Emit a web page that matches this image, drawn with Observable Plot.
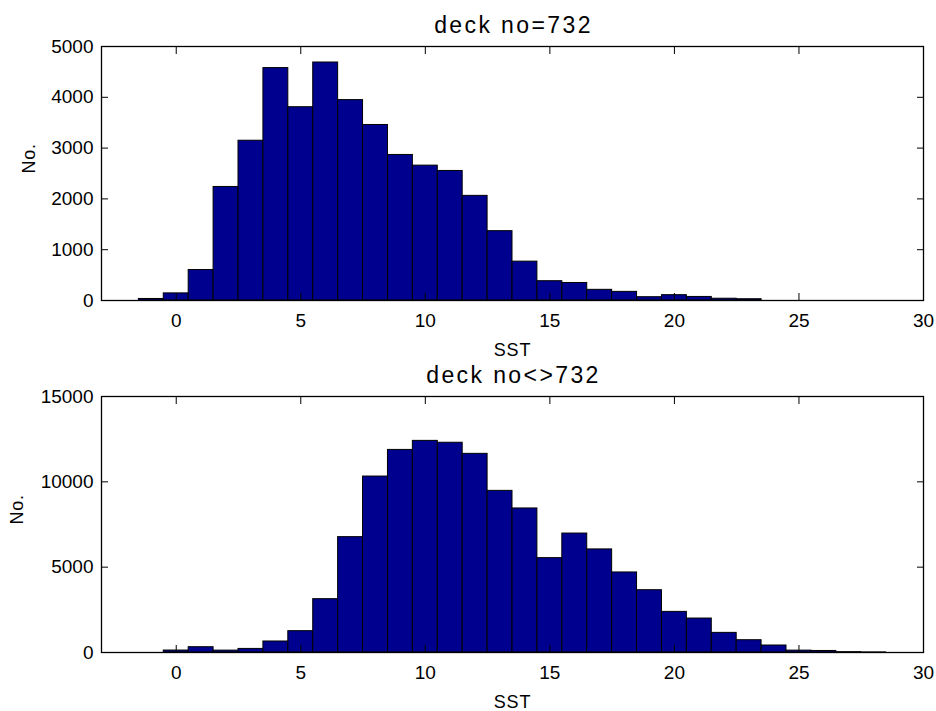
<!DOCTYPE html>
<html>
<head>
<meta charset="utf-8">
<script src="https://cdn.jsdelivr.net/npm/d3@7"></script>
<script src="https://cdn.jsdelivr.net/npm/@observablehq/plot@0.6"></script>
<style>
  html, body { margin: 0; padding: 0; background: #fff; }
  #chart { width: 936px; }
  #chart svg { display: block; overflow: visible; }
</style>
</head>
<body>
<div id="chart"></div>
<script>
// ---- data ----
const sstBins = [-2, -1, 0, 1, 2, 3, 4, 5, 6, 7, 8, 9, 10, 11, 12, 13, 14, 15, 16, 17, 18, 19, 20, 21, 22, 23, 24, 25, 26, 27, 28, 29];
const counts732 = [0, 30, 140, 600, 2235, 3145, 4575, 3805, 4685, 3945, 3455, 2865, 2655, 2550, 2060, 1365, 765, 380, 345, 210, 170, 65, 105, 70, 35, 25, 0, 0, 0, 0, 0, 0];
const countsOther = [0, 0, 115, 310, 110, 210, 645, 1250, 3125, 6760, 10310, 11870, 12400, 12290, 11640, 9470, 8440, 5530, 6970, 6040, 4690, 3650, 2380, 1990, 1150, 720, 410, 110, 90, 20, 5, 0];
const xTicks = [0, 5, 10, 15, 20, 25, 30];
const yTicksTop = [0, 1000, 2000, 3000, 4000, 5000];
const yTicksBottom = [0, 5000, 10000, 15000];
const titles = ["deck no=732", "deck no\u003C\u003E732"];
const xLabel = "SST";
const yLabel = "No.";
const binWidth = 1;

const FONT = "'Liberation Sans', Arial, sans-serif";
const BAR = "#00008F";

function panel({counts, yTicks, yMax, title, height, marginTop, marginBottom, yLabelDx}) {
  const rows = sstBins.map((c, i) => ({c, n: counts[i]}));
  const tick = 7;
  const svg = Plot.plot({
    width: 936,
    height,
    marginTop,
    marginBottom,
    marginLeft: 101,
    marginRight: 13,
    style: {fontFamily: FONT, fontSize: "19px", color: "#000", background: "#fff", overflow: "visible"},
    x: {domain: [-3, 30]},
    y: {domain: [0, yMax]},
    marks: [
      Plot.rectY(rows, {
        x1: d => d.c - binWidth / 2,
        x2: d => d.c + binWidth / 2,
        y: "n",
        fill: BAR,
        stroke: "#000",
        strokeWidth: 1
      }),
      Plot.frame({stroke: "#000", strokeWidth: 1.3}),
      // tick labels
      Plot.axisX({anchor: "bottom", ticks: xTicks, tickSize: 0, tickPadding: 13, label: null, fontSize: 19}),
      Plot.axisY({anchor: "left", ticks: yTicks, tickSize: 0, tickPadding: 8, label: null, fontSize: 19, tickFormat: d => String(d)}),
      // inward ticks on all four sides
      Plot.axisX({anchor: "bottom", ticks: xTicks, tickSize: tick, dy: -tick, tickFormat: () => "", label: null}),
      Plot.axisX({anchor: "top", ticks: xTicks, tickSize: tick, dy: tick, tickFormat: () => "", label: null}),
      Plot.axisY({anchor: "left", ticks: yTicks, tickSize: tick, dx: tick, tickFormat: () => "", label: null}),
      Plot.axisY({anchor: "right", ticks: yTicks, tickSize: tick, dx: -tick, tickFormat: () => "", label: null}),
      // title
      Plot.text([title], {frameAnchor: "top", dx: 1, dy: -14, lineAnchor: "bottom", fontSize: 23, fill: "#000"}),
      // x label
      Plot.text([xLabel], {frameAnchor: "bottom", dy: 55, lineAnchor: "bottom", fontSize: 18, fill: "#000"}),
      // y label
      Plot.text([yLabel], {frameAnchor: "left", dx: yLabelDx, rotate: -90, lineAnchor: "middle", fontSize: 18, fill: "#000"})
    ]
  });
  d3.select(svg).selectAll("text")
    .filter(function () { return this.textContent === title; })
    .attr("letter-spacing", "2.4px");
  d3.select(svg).selectAll("text")
    .filter(function () { return this.textContent === xLabel || this.textContent === yLabel; })
    .attr("letter-spacing", "0.8px");
  return svg;
}

const chart = document.getElementById("chart");
chart.append(panel({counts: counts732, yTicks: yTicksTop, yMax: 5000, title: titles[0], height: 358, marginTop: 46, marginBottom: 58, yLabelDx: -72}));
chart.append(panel({counts: countsOther, yTicks: yTicksBottom, yMax: 15000, title: titles[1], height: 353, marginTop: 38, marginBottom: 59, yLabelDx: -84}));
</script>
</body>
</html>
